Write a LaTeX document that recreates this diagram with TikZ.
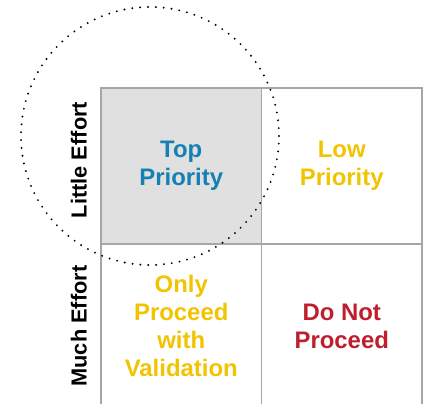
\documentclass[tikz,border=0pt]{standalone}
\usepackage{fontspec}
\setmainfont{Liberation Sans}
\usetikzlibrary{positioning}

\definecolor{cellgray}{HTML}{E0E0E0}
\definecolor{gridgray}{HTML}{A6A6A6}
\definecolor{topblue}{HTML}{1580B4}
\definecolor{lowyellow}{HTML}{F2C300}
\definecolor{stopred}{HTML}{BE1E2D}

\tikzset{
    cell/.style={draw=gridgray, line width=1.4pt, minimum width=4.0125cm, minimum height=3.9cm,
        inner sep=0pt, outer sep=0pt, align=center, font=\bfseries\fontsize{17}{19.9}\selectfont},
    effort/.style={rotate=90, anchor=south, inner sep=0pt, font=\bfseries\fontsize{15.5}{18}\selectfont},
}

\begin{document}
\begin{tikzpicture}
    \useasboundingbox (0,0) rectangle (10.625,10.075);
    \clip (0,0) rectangle (10.625,10.075);

    % top row
    \node[cell, fill=cellgray, text=topblue] (top) at (4.53125, 5.925) {Top\\Priority};
    \node[cell, text=lowyellow, right=0pt of top] (low) {Low\\Priority};

    % bottom row runs off the lower edge
    \node[cell, minimum height=4.1cm, text=lowyellow, below=0pt of top] (only) {Only\\Proceed\\with\\Validation};
    \node[cell, minimum height=4.1cm, text=stopred, right=0pt of only] (donot) {Do Not\\Proceed};

    % row labels
    \node[effort] (little) at ([xshift=-0.35cm, yshift=0.15cm]top.west) {Little Effort};
    \node[effort] (much) at ([xshift=-0.35cm]only.west) {Much Effort};

    % dotted ring round the top-left corner
    \draw[line width=1.5pt, line cap=round, dash pattern=on 0pt off 5.6pt]
        (3.75, 6.675) circle (3.225);
\end{tikzpicture}
\end{document}
